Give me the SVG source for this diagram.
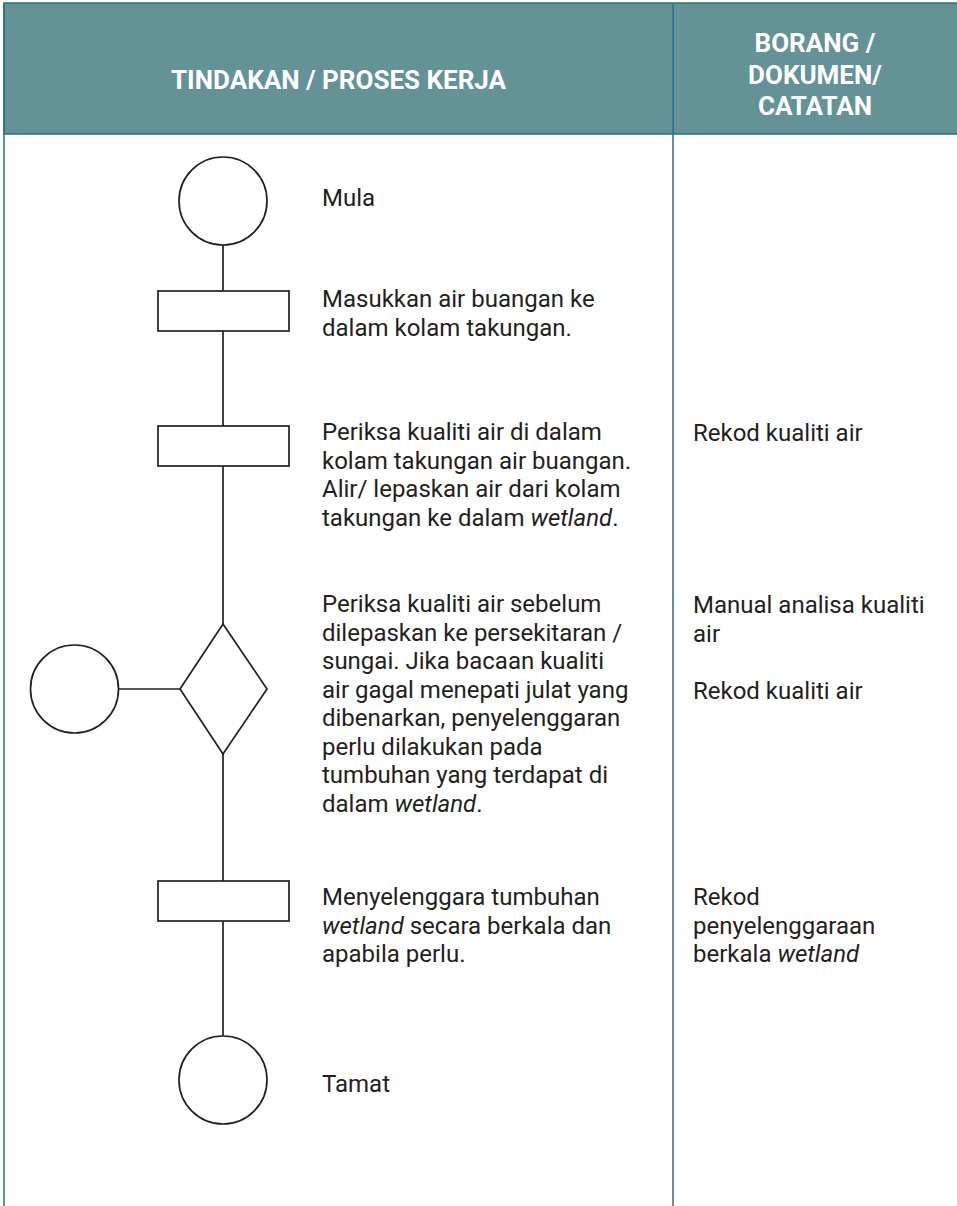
<svg xmlns="http://www.w3.org/2000/svg" width="957" height="1206" viewBox="0 0 957 1206">
<style>
.bg{fill:#ffffff}
.hdr{fill:#639396;stroke:#2b6f80;stroke-width:1.5}
.rule{stroke:#2b6f80;stroke-width:1.5;fill:none}
.ht{font-family:Roboto,"Liberation Sans",sans-serif;font-weight:bold;font-size:26px;fill:#ffffff;text-anchor:middle}
.t{font-family:Roboto,"Liberation Sans",sans-serif;font-size:24px;fill:#231f20}
.shape{fill:#ffffff;stroke:#231f20;stroke-width:1.7}
.conn{stroke:#231f20;stroke-width:1.7;fill:none}
</style>
<rect class="bg" x="0" y="0" width="957" height="1206"/>
<g id="table">
<rect class="hdr" x="4" y="3" width="960" height="131"/>
<line class="rule" x1="4" y1="3" x2="4" y2="1206"/>
<line class="rule" x1="673" y1="3" x2="673" y2="1206"/>
<text class="ht" x="338.5" y="89">TINDAKAN / PROSES KERJA</text>
<text class="ht" x="815" y="52">BORANG /</text>
<text class="ht" x="815" y="83.5">DOKUMEN/</text>
<text class="ht" x="815" y="115">CATATAN</text>
</g>
<g id="connectors">
<line class="conn" x1="223" y1="245" x2="223" y2="291"/>
<line class="conn" x1="223" y1="331" x2="223" y2="426"/>
<line class="conn" x1="223" y1="466" x2="223" y2="624"/>
<line class="conn" x1="223" y1="754" x2="223" y2="881"/>
<line class="conn" x1="223" y1="921" x2="223" y2="1036"/>
<line class="conn" x1="118" y1="689" x2="180" y2="689"/>
</g>
<g id="start">
<circle class="shape" cx="223" cy="201" r="44"/>
<text class="t" x="322" y="206">Mula</text>
</g>
<g id="step1">
<rect class="shape" x="158" y="291" width="131" height="40"/>
<text class="t" x="322" y="307">Masukkan air buangan ke</text>
<text class="t" x="322" y="336">dalam kolam takungan.</text>
</g>
<g id="step2">
<rect class="shape" x="158" y="426" width="131" height="40"/>
<text class="t" x="322" y="440">Periksa kualiti air di dalam</text>
<text class="t" x="322" y="468.5">kolam takungan air buangan.</text>
<text class="t" x="322" y="497">Alir/ lepaskan air dari kolam</text>
<text class="t" x="322" y="525.5">takungan ke dalam <tspan font-style="italic">wetland</tspan>.</text>
<text class="t" x="693" y="441">Rekod kualiti air</text>
</g>
<g id="decision">
<polygon class="shape" points="223,624 267,689 223,754 180,689"/>
<text class="t" x="322" y="612">Periksa kualiti air sebelum</text>
<text class="t" x="322" y="640.5">dilepaskan ke persekitaran /</text>
<text class="t" x="322" y="669">sungai. Jika bacaan kualiti</text>
<text class="t" x="322" y="697.5">air gagal menepati julat yang</text>
<text class="t" x="322" y="726">dibenarkan, penyelenggaran</text>
<text class="t" x="322" y="754.5">perlu dilakukan pada</text>
<text class="t" x="322" y="783">tumbuhan yang terdapat di</text>
<text class="t" x="322" y="811.5">dalam <tspan font-style="italic">wetland</tspan>.</text>
<text class="t" x="693" y="613">Manual analisa kualiti</text>
<text class="t" x="693" y="641.5">air</text>
<text class="t" x="693" y="698.5">Rekod kualiti air</text>
</g>
<g id="connector-circle">
<circle class="shape" cx="74.5" cy="689" r="44"/>
</g>
<g id="step3">
<rect class="shape" x="158" y="881" width="131" height="40"/>
<text class="t" x="322" y="905">Menyelenggara tumbuhan</text>
<text class="t" x="322" y="933.5"><tspan font-style="italic">wetland</tspan> secara berkala dan</text>
<text class="t" x="322" y="962">apabila perlu.</text>
<text class="t" x="693" y="905">Rekod</text>
<text class="t" x="693" y="933.5">penyelenggaraan</text>
<text class="t" x="693" y="962">berkala <tspan font-style="italic">wetland</tspan></text>
</g>
<g id="end">
<circle class="shape" cx="223" cy="1080" r="44"/>
<text class="t" x="322" y="1092">Tamat</text>
</g>
</svg>
